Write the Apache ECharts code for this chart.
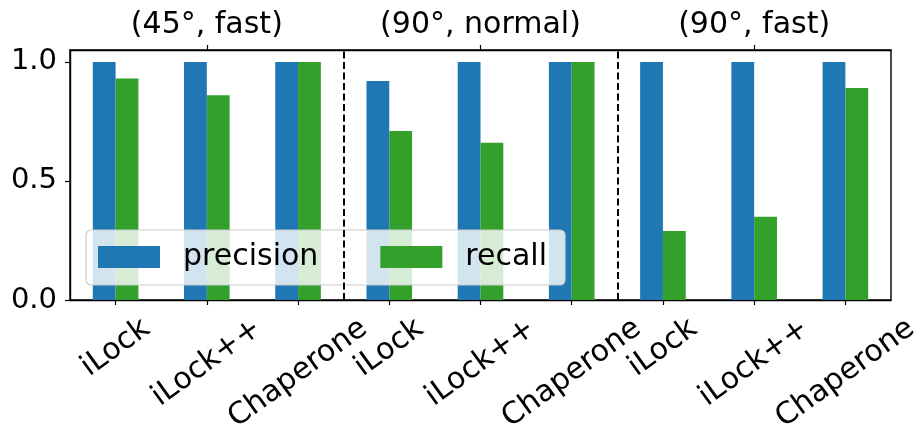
<!DOCTYPE html>
<html><head><meta charset="utf-8">
<script src="https://cdn.jsdelivr.net/npm/echarts@6/dist/echarts.min.js"></script>
<style>html,body{margin:0;padding:0;background:#fff}#c{width:917px;height:428px}</style>
</head><body><div id="c"></div>
<script>
const categories = ['iLock','iLock++','Chaperone','iLock','iLock++','Chaperone','iLock','iLock++','Chaperone'];
const groupLabels = ['(45°, fast)','(90°, normal)','(90°, fast)'];
const precision = [1.0, 1.0, 1.0, 0.92, 1.0, 1.0, 1.0, 1.0, 1.0];
const recall = [0.93, 0.86, 1.0, 0.71, 0.66, 1.0, 0.29, 0.35, 0.89];
const separators = [2.5, 5.5];

const FONT = "'DejaVu Sans', sans-serif";
const FS = 30;
const TFS = 29;
const XFS = 30;
const ROT = 36;

// per-label shift so rotated labels' tops line up (matplotlib style)
const cv = document.createElement('canvas').getContext('2d');
cv.font = XFS + "px 'DejaVu Sans'";
const widths = [0,1,2].map(i => cv.measureText(categories[i]).width);
const wMin = Math.min(...widths);
const rich = {};
const rad = ROT * Math.PI / 180;
[0,1,2].forEach(i => {
  const D = (widths[i] - wMin) * Math.sin(rad) / 2;
  rich['k' + i] = {
    fontFamily: FONT, fontSize: XFS, color: '#000',
    padding: [2 * D * Math.cos(rad), 2 * D * Math.sin(rad), 0, 0]
  };
});

const chart = echarts.init(document.getElementById('c'));
chart.setOption({
  animation: false,
  grid: { left: 70, right: 26, top: 50, bottom: 128, containLabel: false, outerBoundsMode: 'none',
          show: true, borderColor: '#000', borderWidth: 1.4, backgroundColor: 'transparent' },
  legend: {
    data: ['precision', 'recall'],
    left: 86, top: 230,
    icon: 'rect', itemWidth: 62, itemHeight: 22, itemGap: 62,
    padding: [12, 18, 13, 12],
    backgroundColor: 'rgba(255,255,255,0.8)',
    borderColor: '#cccccc', borderWidth: 1.2, borderRadius: 5,
    textStyle: { fontFamily: FONT, fontSize: FS, color: '#000', padding: [0,0,0,18], lineHeight: 30 }
  },
  xAxis: [
    {
      type: 'category', data: categories, position: 'bottom',
      axisLine: { show: true, onZero: false, lineStyle: { color: '#000', width: 1.4 } },
      axisTick: { show: true, alignWithLabel: true, length: 5, lineStyle: { color: '#000', width: 1.2 } },
      axisLabel: {
        interval: 0, rotate: ROT, align: 'center', verticalAlign: 'middle', margin: 48,
        fontFamily: FONT, fontSize: XFS, color: '#000',
        formatter: (v, i) => '{k' + (i % 3) + '|' + v + '}',
        rich: rich
      },
      splitLine: { show: false }
    },
    {
      type: 'category', data: categories, position: 'top',
      axisLine: { show: true, onZero: false, lineStyle: { color: '#000', width: 1.4 } },
      axisTick: { show: true, alignWithLabel: true, length: 5, interval: (i) => i % 3 === 1, lineStyle: { color: '#000', width: 1.2 } },
      axisLabel: {
        interval: 0, margin: 10,
        fontFamily: FONT, fontSize: FS, color: '#000',
        formatter: (v, i) => (i % 3 === 1 ? groupLabels[(i - 1) / 3] : '')
      },
      splitLine: { show: false }
    },
    {
      type: 'value', min: -0.5, max: 8.5, show: false
    }
  ],
  yAxis: {
    type: 'value', min: 0, max: 1.05, interval: 0.5,
    axisLine: { show: true, onZero: false, lineStyle: { color: '#000', width: 1.4 } },
    axisTick: { show: true, length: 5, lineStyle: { color: '#000', width: 1.2 } },
    axisLabel: { margin: 13, fontFamily: FONT, fontSize: TFS, color: '#000', formatter: v => v.toFixed(1), showMaxLabel: false },
    splitLine: { show: false }
  },
  series: [
    { name: 'precision', type: 'bar', data: precision, barWidth: '25%', barGap: '0%', itemStyle: { color: '#1f78b4' }, xAxisIndex: 0 },
    { name: 'recall', type: 'bar', data: recall, barWidth: '25%', barGap: '0%', itemStyle: { color: '#33a02c' }, xAxisIndex: 0 },
    {
      name: 'sep', type: 'line', xAxisIndex: 2, data: [], silent: true,
      markLine: {
        silent: true, symbol: 'none', label: { show: false },
        lineStyle: { color: '#000', type: [7, 3.5], width: 2 },
        data: separators.map(s => ({ xAxis: s }))
      }
    }
  ]
});
</script>
</body></html>
